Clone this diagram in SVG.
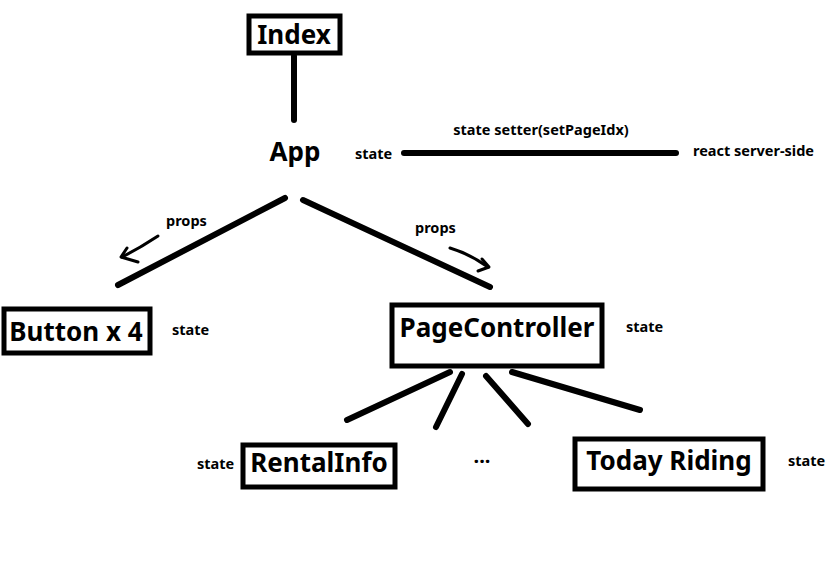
<svg xmlns="http://www.w3.org/2000/svg" width="839" height="564" viewBox="0 0 839 564">
<style>
.box{fill:#fff;stroke:#000;stroke-width:5}
.big{font-family:"Noto Sans","Open Sans",sans-serif;font-weight:bold;font-size:26px;fill:#000}
.small{font-family:"Noto Sans","Open Sans",sans-serif;font-weight:bold;font-size:14.5px;fill:#000}
.ln{stroke:#000;stroke-width:6;stroke-linecap:round;fill:none}
.arr{stroke:#000;stroke-width:3;stroke-linecap:round;stroke-linejoin:round;fill:none}
</style>
<rect width="839" height="564" fill="#fff"/>
<g id="connectors">
<line class="ln" x1="294" y1="56" x2="294" y2="120"/>
<line class="ln" x1="404" y1="153" x2="676" y2="153"/>
<line class="ln" x1="285" y1="198" x2="118" y2="285"/>
<line class="ln" x1="303" y1="200" x2="490" y2="287"/>
<line class="ln" x1="450" y1="372" x2="347" y2="420"/>
<line class="ln" x1="462" y1="374" x2="436" y2="427"/>
<line class="ln" x1="486" y1="376" x2="528" y2="424"/>
<line class="ln" x1="512" y1="372" x2="640" y2="410"/>
<path class="arr" d="M158,236 Q140,248 122,257"/>
<path class="arr" d="M127,248 L121,257 L138,262"/>
<path class="arr" d="M450,248 Q470,254 488,267"/>
<path class="arr" d="M482,259 L489,267 L478,271"/>
<text class="small" x="541" y="135" text-anchor="middle">state setter(setPageIdx)</text>
<text class="small" x="166" y="226">props</text>
<text class="small" x="415" y="233">props</text>
</g>
<g id="index">
<rect class="box" x="249" y="16" width="91" height="37"/>
<text class="big" x="294" y="44" text-anchor="middle">Index</text>
</g>
<g id="app">
<text class="big" x="295" y="161" text-anchor="middle">App</text>
<text class="small" x="355" y="159">state</text>
</g>
<g id="server">
<text class="small" x="693" y="156">react server-side</text>
</g>
<g id="button">
<rect class="box" x="4" y="309" width="146" height="44"/>
<text class="big" x="76" y="341" text-anchor="middle">Button x 4</text>
<text class="small" x="172" y="335">state</text>
</g>
<g id="pagecontroller">
<rect class="box" x="392" y="305" width="210" height="61"/>
<text class="big" x="497" y="337" text-anchor="middle">PageController</text>
<text class="small" x="626" y="332">state</text>
</g>
<g id="rentalinfo">
<rect class="box" x="243" y="445" width="152" height="42"/>
<text class="big" x="319" y="472" text-anchor="middle">RentalInfo</text>
<text class="small" x="197" y="469">state</text>
</g>
<g id="more">
<text class="small" x="482" y="463" text-anchor="middle" style="font-size:20px">...</text>
</g>
<g id="todayriding">
<rect class="box" x="575" y="439" width="188" height="50"/>
<text class="big" x="669" y="470" text-anchor="middle">Today Riding</text>
<text class="small" x="788" y="466">state</text>
</g>
</svg>
